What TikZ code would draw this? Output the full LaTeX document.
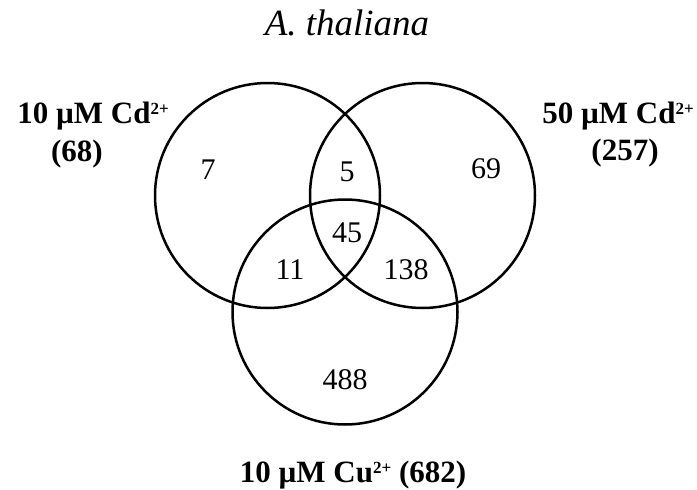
\documentclass[tikz,border=0pt]{standalone}
\usepackage{fontspec}
\setmainfont{Liberation Serif}
% small raised ion charge
\newcommand\ioncharge[1]{\raisebox{9pt}{\fontsize{17}{17}\selectfont #1}}
\begin{document}
\begin{tikzpicture}[x=1pt,y=-1pt,
  setcircle/.style={circle,draw,line width=2.5pt,minimum size=225pt,inner sep=0pt},
  count/.style={anchor=base,font=\fontsize{30}{36}\selectfont},
  setlabel/.style={anchor=base,font=\fontsize{31}{37}\selectfont\bfseries},
  heading/.style={anchor=base,font=\fontsize{37}{44}\selectfont\itshape}]
\useasboundingbox (0,0) rectangle (697,490);
% the three sets
\node[setcircle] (cdlow)  at (267.5,195.5) {};
\node[setcircle] (cdhigh) at (422.5,195.5) {};
\node[setcircle] (cu)     at (345,312) {};
% title
\node[heading] (title) at (347,35) {A. thaliana};
% set names with totals
\node[setlabel] (lcdlow)   at (93,123)  {10 µM Cd\ioncharge{2+}};
\node[setlabel] (tcdlow)   at (77,161)  {(68)};
\node[setlabel] (lcdhigh)  at (618,123) {50 µM Cd\ioncharge{2+}};
\node[setlabel] (tcdhigh)  at (625,160) {(257)};
\node[setlabel] (lcu)      at (353,482) {10 µM Cu\ioncharge{2+} (682)};
% region counts
\node[count] (n1)   at (208,179) {7};
\node[count] (n2)   at (347,181) {5};
\node[count] (n3)   at (486,178) {69};
\node[count] (n12)  at (347,242) {45};
\node[count] (n13)  at (290,279) {11};
\node[count] (n23)  at (406,279) {138};
\node[count] (n123) at (345,389) {488};
\end{tikzpicture}
\end{document}
